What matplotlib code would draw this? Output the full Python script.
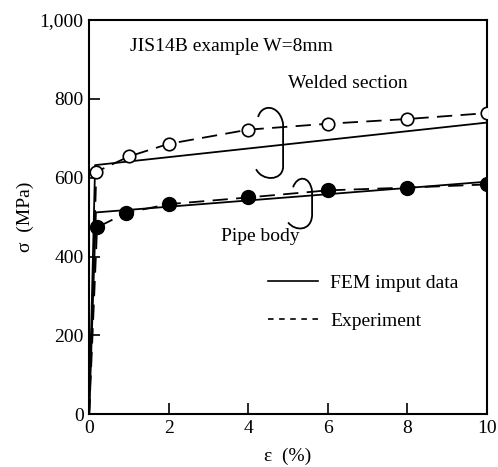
import numpy as np
import matplotlib.pyplot as plt
from matplotlib.lines import Line2D
from matplotlib.path import Path
from matplotlib.patches import PathPatch

plt.rcParams['font.family'] = ['Liberation Serif', 'DejaVu Serif']
plt.rcParams['lines.scale_dashes'] = False

# FEM input data (strain %, stress MPa)
fem_welded_x = [0.0, 0.15, 10.0]
fem_welded_y = [0, 632, 740]
fem_pipe_x = [0.0, 0.17, 10.0]
fem_pipe_y = [0, 512, 590]

# Experiment
exp_welded_x = [0.0, 0.18, 1.0, 2.0, 4.0, 6.0, 8.0, 10.0]
exp_welded_y = [0, 615, 654, 686, 722, 737, 749, 764]
exp_pipe_x = [0.0, 0.2, 0.93, 2.0, 4.0, 6.0, 8.0, 10.0]
exp_pipe_y = [0, 474, 511, 533, 550, 568, 575, 583]

xticks = [0, 2, 4, 6, 8, 10]
yticks = [0, 200, 400, 600, 800, 1000]
ytick_labels = ['0', '200', '400', '600', '800', '1,000']

fig = plt.figure(figsize=(4.98, 4.67), dpi=100)
ax = fig.add_axes([0.179, 0.113, 0.799, 0.844])

dash = (11, 6)
ax.plot(fem_welded_x, fem_welded_y, color='black', lw=1.3)
ax.plot(fem_pipe_x, fem_pipe_y, color='black', lw=1.3)
ax.plot(exp_welded_x, exp_welded_y, color='black', lw=1.3, dashes=dash)
ax.plot(exp_pipe_x, exp_pipe_y, color='black', lw=1.3, dashes=dash)
ax.plot(exp_welded_x[1:], exp_welded_y[1:], 'o', ms=9, mfc='white',
        mec='black', mew=1.2, ls='none', zorder=5)
ax.plot(exp_pipe_x[1:], exp_pipe_y[1:], 'o', ms=10, mfc='black',
        mec='black', ls='none', zorder=5)

ax.set_xlim(0, 10)
ax.set_ylim(0, 1000)
ax.set_xticks(xticks)
ax.set_yticks(yticks)
ax.set_yticklabels(ytick_labels)
ax.tick_params(direction='in', length=8, width=1.2, labelsize=14, pad=4)
for s in ax.spines.values():
    s.set_linewidth(1.5)

ax.set_xlabel('ε  (%)', fontsize=14, labelpad=8)
ax.set_ylabel('σ  (MPa)', fontsize=14, labelpad=4)

ax.text(1.03, 932, 'JIS14B example W=8mm', fontsize=14, va='center')
ax.text(6.5, 838, 'Welded section', fontsize=14, va='center', ha='center')
ax.text(4.3, 450, 'Pipe body', fontsize=14, va='center', ha='center')


def px2data(pts):
    return [((x - 89) / 39.8, (414 - y) / 0.3925) for x, y in pts]


# bracket shapes, traced in pixel space
welded_brace = px2data([(258, 118), (262, 104), (280, 106), (283, 125),
                        (283, 140), (283, 155), (283, 168),
                        (282, 182), (262, 182), (256, 170)])
pipe_brace = px2data([(293, 188), (297, 176), (310, 176), (312, 192),
                      (312, 200), (312, 208), (312, 216),
                      (311, 232), (295, 232), (288, 223)])
codes = [Path.MOVETO] + [Path.CURVE4] * 3 + [Path.LINETO] * 3 + [Path.CURVE4] * 3
for pts in (welded_brace, pipe_brace):
    ax.add_patch(PathPatch(Path(pts, codes), fill=False, lw=1.3, ec='black'))

handles = [Line2D([], [], color='black', lw=1.2),
           Line2D([], [], color='black', lw=1.2, dashes=(4, 4))]
ax.legend(handles, ['FEM imput data', 'Experiment'], loc='upper left',
          bbox_to_anchor=(0.405, 0.40), frameon=False, fontsize=14,
          handlelength=2.6, handletextpad=0.6, labelspacing=1.05)

fig.savefig('out.png', dpi=100)
